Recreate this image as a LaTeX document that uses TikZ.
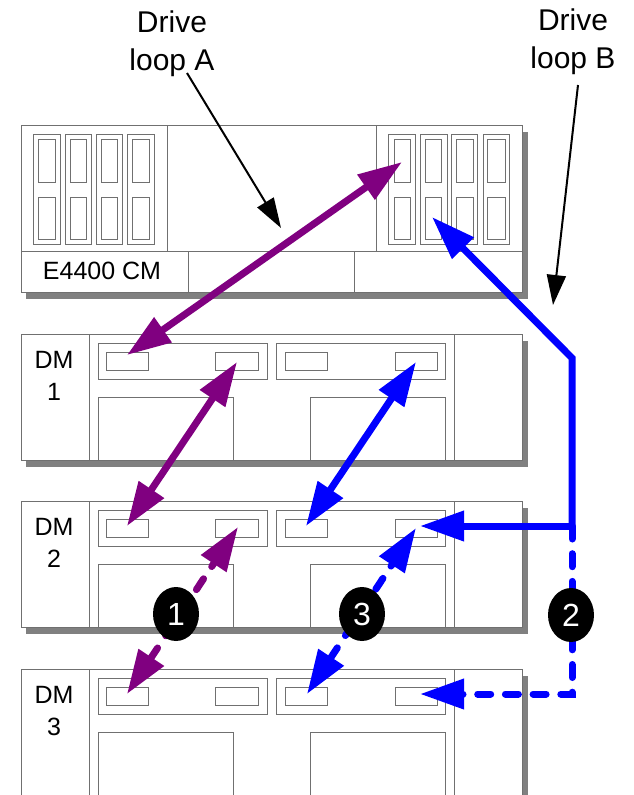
\documentclass[tikz,border=0pt]{standalone}
\usepackage{fontspec}
\setmainfont{Liberation Sans}
\usetikzlibrary{arrows.meta,shapes.geometric}
\definecolor{loopA}{RGB}{128,0,128}
\definecolor{loopB}{RGB}{0,0,255}
\definecolor{frameline}{RGB}{112,112,112}
\definecolor{shadowgray}{RGB}{128,128,128}
\tikzset{
  frame/.style={draw=frameline,line width=0.7pt},
  outerframe/.style={draw=frameline,fill=white,line width=1pt},
  shadowbox/.style={fill=shadowgray,draw=none},
  bigtip/.style={-{Triangle[length=44pt,width=29pt]}},
  bigboth/.style={{Triangle[length=44pt,width=29pt]}-{Triangle[length=44pt,width=29pt]}},
  link/.style={line width=7pt},
  dashlink/.style={line width=7pt,line cap=round,dash pattern=on 13pt off 14.7pt},
  callout/.style={draw=black,line width=2pt,-{Triangle[length=30pt,width=19pt]}},
  badge/.style={ellipse,fill=black,text=white,inner sep=0pt,minimum width=46pt,minimum height=54pt,font=\fontsize{32}{32}\selectfont},
  title/.style={align=center,font=\fontsize{30}{38}\selectfont,inner sep=0pt},
  dmlabel/.style={align=center,font=\fontsize{25}{32}\selectfont,inner sep=0pt},
}
\newcommand{\drivepanel}[1]{%
  \foreach \a/\b/\c/\d in {#1}{
    \draw[frame] (\a,134) rectangle (\b,244);
    \draw[frame] (\c,139) rectangle (\d,182);
    \draw[frame] (\c,197) rectangle (\d,239);
  }
}
\newcommand{\dmunit}[3]{% #1 top, #2 node name, #3 number
  \fill[shadowbox] (26,#1+7) rectangle (528,#1+133);
  \draw[outerframe] (21,#1) rectangle (522,#1+126);
  \draw[frame] (89,#1) -- (89,#1+126);
  \draw[frame] (454,#1) -- (454,#1+126);
  \draw[frame] (98,#1+9) rectangle (267,#1+45);
  \draw[frame] (276,#1+9) rectangle (445,#1+45);
  \draw[frame] (106,#1+18) rectangle (148,#1+36);
  \draw[frame] (215,#1+18) rectangle (258,#1+36);
  \draw[frame] (285,#1+18) rectangle (327,#1+36);
  \draw[frame] (395,#1+18) rectangle (437,#1+36);
  \draw[frame] (98,#1+126) -- (98,#1+63) -- (233,#1+63) -- (233,#1+126);
  \draw[frame] (310,#1+126) -- (310,#1+63) -- (445,#1+63) -- (445,#1+126);
  \node[dmlabel] (#2) at (54,#1+42) {DM\\#3};
}
\begin{document}
\begin{tikzpicture}[x=1pt,y=-1pt]
\useasboundingbox (0,0) rectangle (633,795);
\fill[white] (0,0) rectangle (633,795);

% controller module
\fill[shadowbox] (26,132) rectangle (528,299);
\draw[outerframe] (21,125) rectangle (522,292);
\draw[frame] (21,251) -- (522,251);
\draw[frame] (167,125) -- (167,251);
\draw[frame] (376,125) -- (376,251);
\draw[frame] (188,251) -- (188,292);
\draw[frame] (354,251) -- (354,292);
\drivepanel{33/60/38.5/55,65/91.5/70/86,96/122/101/117,127.5/154/132/149}
\drivepanel{388/415/394/410,420/447/425/441,451/477/456/473,483/509/487/505}
\node[inner sep=0pt,font=\fontsize{25}{30}\selectfont] (cm) at (102,271) {E4400 CM};

% drive modules
\dmunit{334}{dmone}{1}
\dmunit{501}{dmtwo}{2}
\dmunit{669}{dmthree}{3}

% titles
\node[title] (titleA) at (172,44) {Drive\\loop A};
\node[title] (titleB) at (573,42) {Drive\\loop B};

% connector end points
\coordinate (calloutAs) at (187,73);
\coordinate (calloutAe) at (281,228);
\coordinate (calloutBs) at (578,85);
\coordinate (calloutBe) at (553,305);
\coordinate (cmA) at (402,162);
\coordinate (cmB) at (432,217);
\coordinate (oneLa) at (127,355);
\coordinate (oneRa) at (237,362);
\coordinate (twoLa) at (127,526);
\coordinate (twoRa) at (238,527);
\coordinate (threeLa) at (127,694);
\coordinate (oneRb) at (416,362);
\coordinate (twoLb) at (306,526);
\coordinate (twoRb) at (416,528);
\coordinate (threeLb) at (307,694);
\coordinate (twoIn) at (420,526);
\coordinate (threeIn) at (420,694);
\coordinate (bendB) at (572,358);
\coordinate (juncB) at (572,526);
\coordinate (cornerB) at (572,694);

% callouts
\draw[callout] (calloutAs) -- (calloutAe);
\draw[callout] (calloutBs) -- (calloutBe);

% loop A
\draw[loopA,link,bigboth] (oneLa) -- (cmA);
\draw[loopA,link,bigboth] (twoLa) -- (oneRa);
\draw[loopA,dashlink,bigboth] (threeLa) -- (twoRa);

% loop B
\draw[loopB,link,bigtip,line join=miter] (juncB) -- (bendB) -- (cmB);
\draw[loopB,link,bigtip] (juncB) -- (twoIn);
\draw[loopB,link,bigboth] (twoLb) -- (oneRb);
\draw[loopB,dashlink,bigboth] (threeLb) -- (twoRb);
\draw[loopB,dashlink,bigtip,line join=miter] (juncB) -- (cornerB) -- (threeIn);

% badges
\node[badge] (badgeOne) at (176,614) {1};
\node[badge] (badgeThree) at (362,614) {3};
\node[badge] (badgeTwo) at (571,615) {2};
\end{tikzpicture}
\end{document}
